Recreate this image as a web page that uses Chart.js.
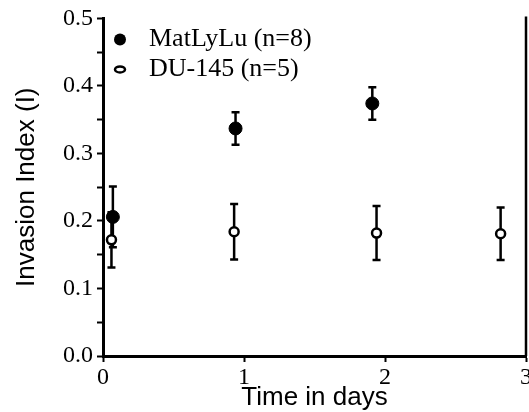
<!DOCTYPE html>
<html>
<head>
<meta charset="utf-8">
<script src="https://cdn.jsdelivr.net/npm/chart.js@4.4.0/dist/chart.umd.min.js"></script>
<style>
  html, body { margin: 0; padding: 0; background: #fff; overflow: hidden; }
  #wrap { position: absolute; left: 0; top: 0; width: 560px; height: 412px; }
</style>
</head>
<body>
<div id="wrap"><canvas id="chart"></canvas></div>
<script>
// values
const seriesNames = ["MatLyLu (n=8)", "DU-145 (n=5)"];
const matDays = [0.07, 0.94, 1.91];
const matMean = [0.206, 0.337, 0.374];
const matErr = [0.045, 0.024, 0.024];
const duDays = [0.06, 0.93, 1.94, 2.82];
const duMean = [0.172, 0.184, 0.182, 0.181];
const duErr = [0.041, 0.041, 0.040, 0.039];
const xTicks = [0, 1, 2, 3];
const yTicks = [0.0, 0.1, 0.2, 0.3, 0.4, 0.5];

const toPoints = (xs, ys, es) => xs.map((x, i) => ({ x: x, y: ys[i], err: es[i] }));

const serif = "'Liberation Serif', 'Times New Roman', serif";
const sans = "'Liberation Sans', Arial, sans-serif";

// error bars under the markers
const errorBars = {
  id: "errorBars",
  beforeDatasetsDraw(chart) {
    const ctx = chart.ctx;
    const xs = chart.scales.x, ys = chart.scales.y;
    ctx.save();
    ctx.strokeStyle = "#000";
    ctx.lineWidth = 2.5;
    chart.data.datasets.forEach(ds => {
      ds.data.forEach(p => {
        const px = xs.getPixelForValue(p.x);
        const top = ys.getPixelForValue(p.y + p.err);
        const bot = ys.getPixelForValue(p.y - p.err);
        ctx.beginPath();
        ctx.moveTo(px, top); ctx.lineTo(px, bot);
        ctx.moveTo(px - 4, top); ctx.lineTo(px + 4, top);
        ctx.moveTo(px - 4, bot); ctx.lineTo(px + 4, bot);
        ctx.stroke();
      });
    });
    ctx.restore();
  }
};

// right frame line and the legend inside the plot
const frameAndLegend = {
  id: "frameAndLegend",
  afterDraw(chart) {
    const ctx = chart.ctx;
    const a = chart.chartArea;
    ctx.save();
    ctx.strokeStyle = "#000";
    ctx.lineWidth = 2.5;
    ctx.beginPath();
    ctx.moveTo(a.right, a.top - 2);
    ctx.lineTo(a.right, a.bottom);
    ctx.stroke();

    const lx = a.left + 17, ly = a.top + 21;
    ctx.fillStyle = "#000";
    ctx.beginPath();
    ctx.arc(lx, ly, 6, 0, Math.PI * 2);
    ctx.fill();
    ctx.lineWidth = 2.5;
    ctx.beginPath();
    ctx.ellipse(lx, ly + 30, 5, 3, 0, 0, Math.PI * 2);
    ctx.stroke();

    ctx.font = "26px " + serif;
    ctx.textBaseline = "middle";
    ctx.textAlign = "left";
    ctx.fillText(seriesNames[0], lx + 29, ly);
    ctx.fillText(seriesNames[1], lx + 29, ly + 30);
    ctx.restore();
  }
};

new Chart(document.getElementById("chart"), {
  type: "scatter",
  data: {
    datasets: [
      {
        label: seriesNames[0],
        data: toPoints(matDays, matMean, matErr),
        pointStyle: "circle",
        pointRadius: 6.5,
        backgroundColor: "#000",
        borderColor: "#000",
        borderWidth: 1
      },
      {
        label: seriesNames[1],
        data: toPoints(duDays, duMean, duErr),
        pointStyle: "circle",
        pointRadius: 4.5,
        backgroundColor: "#fff",
        borderColor: "#000",
        borderWidth: 2.5
      }
    ]
  },
  options: {
    responsive: true,
    maintainAspectRatio: false,
    animation: false,
    layout: { padding: { top: 16, right: 34, left: 0, bottom: 0 } },
    plugins: {
      legend: { display: false },
      tooltip: { enabled: false }
    },
    scales: {
      x: {
        type: "linear",
        min: xTicks[0],
        max: xTicks[xTicks.length - 1],
        afterBuildTicks: s => { s.ticks = xTicks.map(v => ({ value: v })); },
        afterFit: s => { s.height = 56; },
        ticks: {
          color: "#000",
          font: { family: serif, size: 24 },
          padding: 1,
          maxRotation: 0,
          autoSkip: false,
          callback: v => String(v)
        },
        grid: { drawOnChartArea: false, color: "#000", tickLength: 6, tickWidth: 2 },
        border: { color: "#000", width: 3 },
        title: {
          display: true,
          text: "Time in days",
          color: "#000",
          font: { family: sans, size: 26, lineHeight: 1 },
          padding: { top: 0, bottom: 1 }
        }
      },
      y: {
        min: yTicks[0],
        max: yTicks[yTicks.length - 1],
        afterBuildTicks: s => {
          const t = [];
          yTicks.forEach((v, i) => {
            t.push({ value: v });
            if (i < yTicks.length - 1) t.push({ value: v + 0.05 });
          });
          s.ticks = t;
        },
        afterFit: s => { s.width = 103; },
        ticks: {
          color: "#000",
          font: { family: serif, size: 24 },
          padding: 4,
          autoSkip: false,
          callback: v => (Math.round(v * 100) % 10 === 0 ? v.toFixed(1) : "")
        },
        grid: { drawOnChartArea: false, color: "#000", tickLength: 6, tickWidth: 2 },
        border: { color: "#000", width: 3 },
        title: {
          display: true,
          text: "Invasion Index (I)",
          color: "#000",
          font: { family: sans, size: 26, lineHeight: 1 },
          padding: { top: 14, bottom: 0 }
        }
      }
    }
  },
  plugins: [errorBars, frameAndLegend]
});
</script>
</body>
</html>
